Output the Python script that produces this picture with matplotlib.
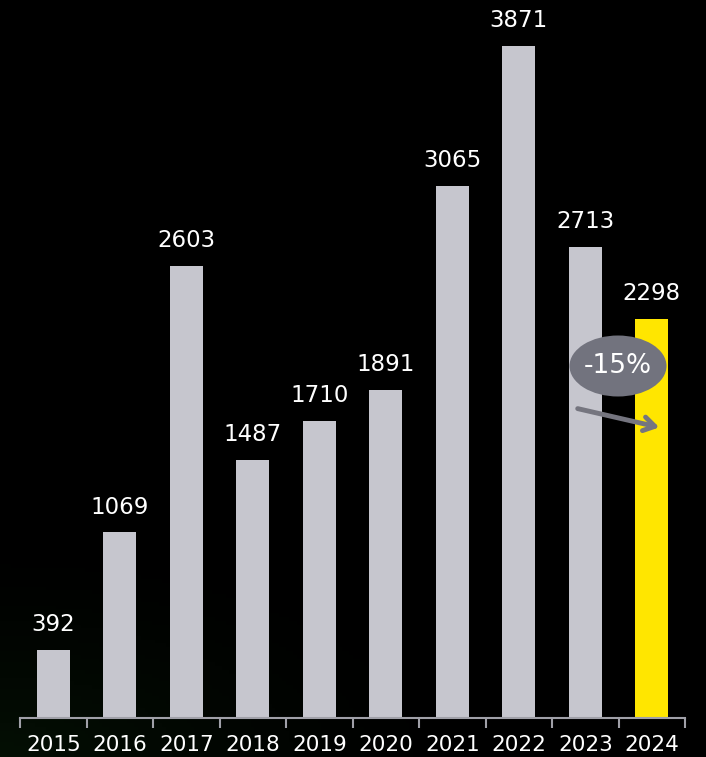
import matplotlib
matplotlib.use("Agg")
import matplotlib.pyplot as plt
import numpy as np
from matplotlib.patches import Ellipse

years = ["2015", "2016", "2017", "2018", "2019", "2020", "2021", "2022", "2023", "2024"]
values = [392, 1069, 2603, 1487, 1710, 1891, 3065, 3871, 2713, 2298]
change_label = "-15%"

bar_grey = "#c6c6ce"
bar_yellow = "#ffe600"
colors = [bar_grey] * (len(years) - 1) + [bar_yellow]

W, H = 706, 757
fig = plt.figure(figsize=(W / 100, H / 100), dpi=100)
fig.patch.set_facecolor("black")

# subtle green glow background bottom-left
bg = fig.add_axes([0, 0, 1, 1], zorder=0)
yy, xx = np.mgrid[0:1:200j, 0:1:200j]
d = np.sqrt((xx / 0.7) ** 2 + (yy / 0.3) ** 2)
glow = np.clip(1 - d, 0, 1) ** 1.5
img = np.zeros((200, 200, 3))
img[..., 0] = 0.015 * glow
img[..., 1] = 0.06 * glow
img[..., 2] = 0.015 * glow
bg.imshow(img, origin="lower", extent=[0, 1, 0, 1], aspect="auto")
bg.axis("off")

left = 20 / W
right = 685 / W
bottom = 1 - 718 / H
ax = fig.add_axes([left, bottom, right - left, 1 - bottom], zorder=1)
ax.set_facecolor("none")

x = np.arange(len(years))
ax.bar(x, values, width=0.5, color=colors, zorder=2)
ax.set_xlim(-0.5, len(years) - 0.5)
ax.set_ylim(0, 718 / 0.1736)

for i, v in enumerate(values):
    ax.annotate(f"{v}", (x[i], v), xytext=(0, 10), textcoords="offset points",
                ha="center", va="bottom", color="white", fontsize=16.5)

for s in ["top", "right", "left"]:
    ax.spines[s].set_visible(False)
ax.spines["bottom"].set_color("#a0a0a8")
ax.spines["bottom"].set_linewidth(1.5)
ax.set_yticks([])
ax.set_xticks(x)
ax.set_xticklabels(years, color="white", fontsize=15.5)
ax.tick_params(axis="x", which="major", length=0, pad=12)
ax.set_xticks(np.arange(-0.5, len(years)), minor=True)
ax.tick_params(axis="x", which="minor", length=7, width=1.5, color="#a0a0a8")

# -15% ellipse and arrow (figure pixel coordinates)
def px(xp, yp):
    return (xp / W, 1 - yp / H)

ell = Ellipse(px(618, 366), 97 / W, 61 / H, transform=fig.transFigure,
              facecolor="#72737e", edgecolor="none", zorder=5)
fig.patches.append(ell)
fig.text(*px(618, 366), change_label, ha="center", va="center", color="white",
         fontsize=19, zorder=6)
fig.add_artist(matplotlib.patches.FancyArrowPatch(
    px(575, 408), px(662, 428), transform=fig.transFigure,
    arrowstyle="->,head_length=8,head_width=5", color="#75757f",
    linewidth=3.5, zorder=5, capstyle="round", joinstyle="round"))

fig.savefig("out.png", dpi=100, facecolor=fig.get_facecolor())
